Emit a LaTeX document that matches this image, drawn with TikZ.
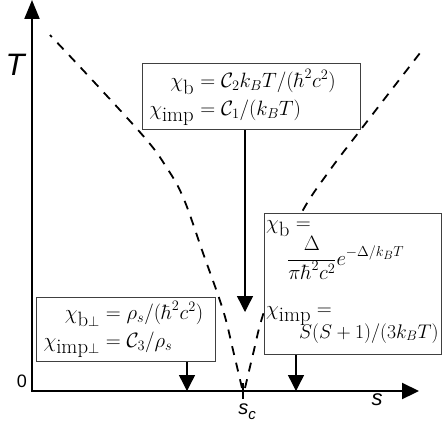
\documentclass[tikz,border=0pt]{standalone}
\usepackage{graphicx}
\usepackage{fontspec}
\newfontfamily\labfont{Liberation Sans}
\usetikzlibrary{arrows.meta}
\begin{document}
\begin{tikzpicture}[x=1pt,y=-1pt,
  axisline/.style={line width=2.2pt,{Triangle[length=19pt,width=15pt]}-{Triangle[length=17pt,width=16pt]}},
  curve/.style={line width=1.8pt,dash pattern=on 9pt off 8pt},
  infobox/.style={draw=black!75,fill=white,line width=1.3pt,inner sep=0pt,anchor=north west},
  ptr/.style={line width=1.4pt,-{Triangle[length=16pt,width=16pt]}},
  eqn/.style={inner sep=0pt,font=\fontsize{20.74}{25}\selectfont},
  eqR/.style={eqn,anchor=base east},
  eqL/.style={eqn,anchor=base west},
  lbl/.style={inner sep=0pt,font=\labfont\itshape},
  tickmark/.style={line width=2pt}]
\useasboundingbox (0,0) rectangle (443,428);

% axes
\coordinate (O) at (32,391);
\coordinate (ytip) at (32,0);
\coordinate (xtip) at (419,391);
\draw[axisline] (ytip) -- (O) -- (xtip);

% critical point tick
\coordinate (sc) at (243,391);
\coordinate (sctop) at (243,383);
\coordinate (scbot) at (243,399);
\draw[tickmark] (sctop) -- (scbot);

% dashed crossover lines
\draw[curve] plot[smooth,tension=0.6] coordinates {(242,388) (233,350) (223,310) (203,253) (183,197) (165,165) (145,138) (95,83) (50,35)};
\draw[curve] plot[smooth,tension=0.6] coordinates {(245,388) (254,350) (262,318) (280,265) (302,212) (330,170) (362,128) (420,53)};

% labels
\node[lbl,font=\labfont\itshape\fontsize{31}{31}\selectfont] (Tlab) at (15,65) {T};
\node[lbl,font=\labfont\fontsize{18}{18}\selectfont] (zero) at (22,381) {0};
\node[lbl,font=\labfont\itshape\fontsize{22}{22}\selectfont] (slab) at (377,400) {s};
\node[lbl,font=\labfont\itshape\fontsize{20}{20}\selectfont] (sclab) at (247,412) {s\raisebox{-5pt}{\fontsize{15}{15}\selectfont c}};

% boxes
\node[infobox,minimum width=218pt,minimum height=66pt] (topbox) at (142,63) {};
\node[infobox,minimum width=177pt,minimum height=141pt] (rbox) at (264,213) {};
\node[infobox,minimum width=179pt,minimum height=64pt] (blbox) at (36,297) {};

% top box text
\node[eqR] (t1l) at (194.5,87) {$\chi_{\mbox{b}}$};
\node[eqL] (t1r) at (194.5,87) {${}=\mathcal{C}_2k_BT/(\hbar^2c^2)$};
\node[eqR] (t2l) at (194.5,115) {$\chi_{\mbox{imp}}$};
\node[eqL] (t2r) at (194.5,115) {${}=\mathcal{C}_1/(k_BT)$};

% bottom-left box text
\node[eqR] (b1l) at (100,319) {$\chi_{\mbox{b}\perp}$};
\node[eqL] (b1r) at (100,319) {${}=\rho_s/(\hbar^2c^2)$};
\node[eqR] (b2l) at (100,347) {$\chi_{\mbox{imp}\perp}$};
\node[eqL] (b2r) at (100,347) {${}=\mathcal{C}_3/\rho_s$};

% right box text
\node[eqL] (r1) at (266,229) {$\chi_{\mbox{b}}=$};
\node[eqL] (r2) at (287,265) {$\displaystyle\frac{\Delta}{\pi\hbar^2c^2}e^{-\Delta/k_BT}$};
\node[eqL] (r3) at (266,315) {$\chi_{\mbox{imp}}=$};
\node[eqL] (r4) at (299,338) {\scalebox{0.95}{$S(S+1)/(3k_BT)$}};

% pointers
\coordinate (a1) at (245,312);
\coordinate (a2) at (187,391);
\coordinate (a3) at (296,391);
\draw[ptr] (a1 |- topbox.south) -- (a1);
\draw[ptr] (a2 |- blbox.south) -- (a2);
\draw[ptr] (a3 |- rbox.south) -- (a3);
\end{tikzpicture}
\end{document}
